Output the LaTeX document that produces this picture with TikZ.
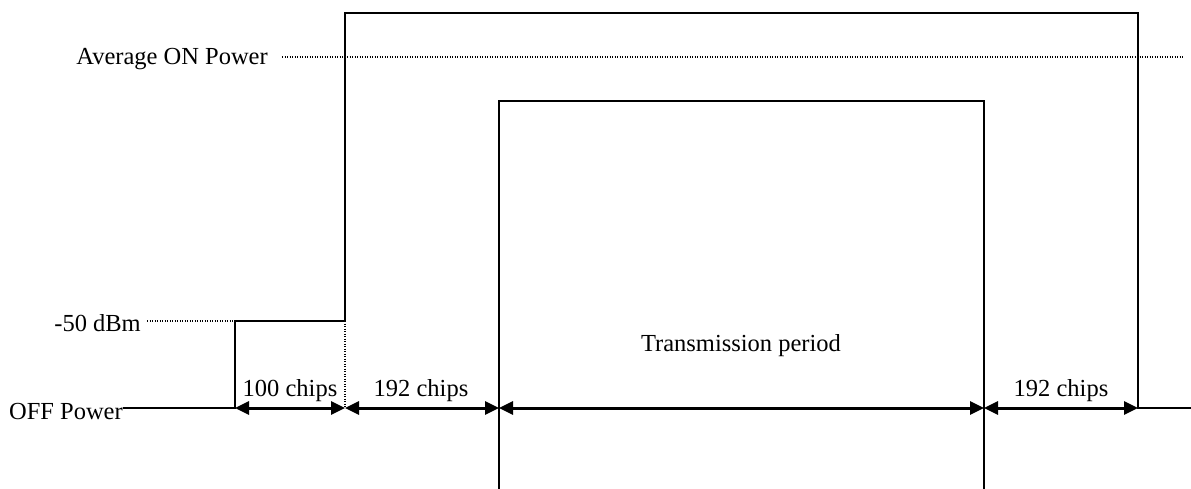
\documentclass[tikz,border=0pt]{standalone}
\usepackage{fontspec}
\setmainfont{Liberation Serif}
\usetikzlibrary{arrows.meta}
\tikzset{
  sig/.style={line width=2pt},
  guide/.style={line width=1.2pt, dash pattern=on 1.2pt off 1.3pt},
  dim/.style={line width=3pt, {Triangle[length=14pt,width=13pt]}-{Triangle[length=14pt,width=13pt]}},
  lbl/.style={font=\fontsize{24.5}{28}\selectfont, inner sep=0pt}
}
\begin{document}
\begin{tikzpicture}[x=1pt,y=-1pt]
\useasboundingbox (0,0) rectangle (1191,489);
% coordinates
\coordinate (off0) at (123,408);
\coordinate (s1) at (235,408);
\coordinate (s1t) at (235,321);
\coordinate (s2t) at (345,321);
\coordinate (s2) at (345,408);
\coordinate (ot) at (345,13);
\coordinate (otr) at (1138,13);
\coordinate (s5) at (1138,408);
\coordinate (end) at (1191,408);
\coordinate (it) at (499,101);
\coordinate (ib) at (499,489);
\coordinate (itr) at (984,101);
\coordinate (ibr) at (984,489);
\coordinate (s3) at (499,408);
\coordinate (s4) at (984,408);
\coordinate (avgS) at (282,57);
\coordinate (avgE) at (1183,57);
\coordinate (dbmS) at (147,321);
% labels
\node[lbl, anchor=east] (avg) at (268,59) {Average ON Power};
\node[lbl, anchor=east] (dbm) at (141,323) {-50 dBm};
\node[lbl, anchor=east] (offp) at (123,412) {OFF Power};
\node[lbl] (c100) at (290,391) {100 chips};
\node[lbl] (c192a) at (421,391) {192 chips};
\node[lbl] (c192b) at (1061,391) {192 chips};
\node[lbl] (tp) at (741,346) {Transmission period};
% guides
\draw[guide] (avgS) -- (avgE);
\draw[guide] (dbmS) -- (s1t);
\draw[guide] (s2t) -- (s2);
% signal
\draw[sig] (offp.east |- off0) -- (s1) -- (s1t) -- (s2t) -- (ot) -- (otr) -- (s5) -- (end);
\draw[sig] (ib) -- (it) -- (itr) -- (ibr);
% dimensions
\draw[dim] (s1) -- (s2);
\draw[dim] (s2) -- (s3);
\draw[dim] (s3) -- (s4);
\draw[dim] (s4) -- (s5);
\end{tikzpicture}
\end{document}
